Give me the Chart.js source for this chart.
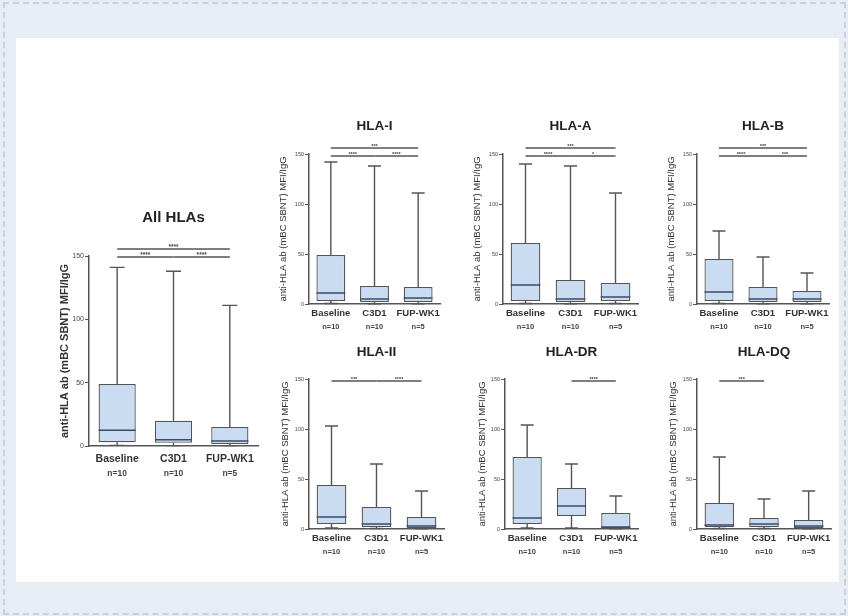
<!DOCTYPE html>
<html>
<head>
<meta charset="utf-8">
<script src="https://cdn.jsdelivr.net/npm/chart.js@4.4.1/dist/chart.umd.min.js"></script>
<style>
  html, body { margin: 0; padding: 0; }
  body { width: 848px; height: 616px; background: #e8ecf4; position: relative; overflow: hidden;
         font-family: 'Liberation Sans', Arial, sans-serif; }
  #frame { position: absolute; left: 3px; top: 2px; width: 839px; height: 609px; border: 2px dashed #c9d1dd; }
  #sheet { position: absolute; left: 16px; top: 38px; width: 823px; height: 544px; background: #fff; }
  canvas { position: absolute; }
</style>
</head>
<body>
<div id="frame"></div>
<div id="sheet"></div>
<script>
// Groups on the x axis and their sample sizes
const categories = ['Baseline', 'C3D1', 'FUP-WK1'];
const groupSizes = ['n=10', 'n=10', 'n=5'];
const yTicks = [0, 50, 100, 150];

// Five-number summaries per group: [min, q1, median, q3, max]
const allHLAs = [[0.5, 3, 12.5, 49, 141], [0.3, 2.5, 5, 20, 138], [0.3, 1.5, 4, 15, 111]];
const hlaI    = [[0.5, 3, 11, 49, 142],   [0.3, 2, 5, 18, 138],   [0.3, 2, 6, 17, 111]];
const hlaA    = [[0.5, 3, 19, 61, 140],   [0.3, 2, 5, 24, 138],   [0.5, 3, 7, 21, 111]];
const hlaB    = [[0.5, 3, 12, 45, 73],    [0.3, 2, 5, 17, 47],    [0.3, 2, 5, 13, 31]];
const hlaII   = [[1, 5, 12, 44, 103],     [0.5, 2, 5, 22, 65],    [0.3, 1, 3, 12, 38]];
const hlaDR   = [[1, 5, 11, 72, 104],     [1, 13, 23, 41, 65],    [0.3, 1, 2, 16, 33]];
const hlaDQ   = [[0.5, 2, 4, 26, 72],     [0.5, 2, 5, 11, 30],    [0.3, 1, 3, 9, 38]];

// Pairwise comparisons: [from group, to group, stars, bracket row]
const allHLAsSig = [[0, 2, '****', 0], [0, 1, '****', 1], [1, 2, '****', 1]];
const hlaISig    = [[0, 2, '***', 0],  [0, 1, '****', 1], [1, 2, '****', 1]];
const hlaASig    = [[0, 2, '***', 0],  [0, 1, '****', 1], [1, 2, '*', 1]];
const hlaBSig    = [[0, 2, '***', 0],  [0, 1, '****', 1], [1, 2, '***', 1]];
const hlaIISig   = [[0, 1, '***', 1],  [1, 2, '****', 1]];
const hlaDRSig   = [[1, 2, '****', 1]];
const hlaDQSig   = [[0, 1, '***', 1]];

const yTitle = 'anti-HLA ab (mBC SBNT) MFI/IgG';
const FONT = "'Liberation Sans', Arial, sans-serif";

// Panel placement on the page (plot rectangle, title and axis-title positions)
const panels = [
  { title: 'All HLAs', data: allHLAs, sig: allHLAsSig, L: 89,  T: 256, R: 258, B: 446, titleY: 218, yTitleX: 65,  big: true },
  { title: 'HLA-I',    data: hlaI,    sig: hlaISig,    L: 309, T: 154, R: 440, B: 304, titleY: 126, yTitleX: 283 },
  { title: 'HLA-A',    data: hlaA,    sig: hlaASig,    L: 503, T: 154, R: 638, B: 304, titleY: 126, yTitleX: 477 },
  { title: 'HLA-B',    data: hlaB,    sig: hlaBSig,    L: 697, T: 154, R: 829, B: 304, titleY: 126, yTitleX: 671 },
  { title: 'HLA-II',   data: hlaII,   sig: hlaIISig,   L: 309, T: 379, R: 444, B: 529, titleY: 352, yTitleX: 285 },
  { title: 'HLA-DR',   data: hlaDR,   sig: hlaDRSig,   L: 505, T: 379, R: 638, B: 529, titleY: 352, yTitleX: 482 },
  { title: 'HLA-DQ',   data: hlaDQ,   sig: hlaDQSig,   L: 697, T: 379, R: 831, B: 529, titleY: 352, yTitleX: 673 }
];

// Whiskers, medians, comparison brackets and the panel title
const boxWhisker = {
  id: 'boxWhisker',
  afterDatasetsDraw(chart, args, o) {
    const { ctx, chartArea } = chart;
    const ys = chart.scales.y;
    const xs = chart.scales.x;
    const meta = chart.getDatasetMeta(0);
    ctx.save();
    o.summary.forEach((s, i) => {
      const bar = meta.data[i];
      const cx = bar.x, hw = bar.width / 2;
      const [mn, q1, md, q3, mx] = s.map(v => ys.getPixelForValue(v));
      ctx.strokeStyle = '#555';
      ctx.lineWidth = 1.4;
      ctx.beginPath();
      ctx.moveTo(cx, q3); ctx.lineTo(cx, mx);
      ctx.moveTo(cx - o.cap / 2, mx); ctx.lineTo(cx + o.cap / 2, mx);
      ctx.moveTo(cx, q1); ctx.lineTo(cx, mn);
      ctx.moveTo(cx - o.cap / 2, mn); ctx.lineTo(cx + o.cap / 2, mn);
      ctx.stroke();
      ctx.strokeStyle = '#3c4a66';
      ctx.lineWidth = 1.5;
      ctx.beginPath();
      ctx.moveTo(cx - hw, md); ctx.lineTo(cx + hw, md);
      ctx.stroke();
    });

    o.sig.forEach(([a, b, stars, row]) => {
      const x1 = xs.getPixelForValue(a), x2 = xs.getPixelForValue(b);
      const y = chartArea.top + (row === 0 ? o.row0 : o.row1);
      ctx.strokeStyle = '#555';
      ctx.lineWidth = 1.3;
      ctx.beginPath();
      ctx.moveTo(x1, y); ctx.lineTo(x2, y);
      ctx.stroke();
      ctx.fillStyle = '#444';
      ctx.font = `bold ${o.starSize}px ${FONT}`;
      ctx.textAlign = 'center';
      ctx.textBaseline = 'bottom';
      ctx.fillText(stars, (x1 + x2) / 2, y + 1.5);
    });

    ctx.fillStyle = '#222';
    ctx.font = `bold ${o.titleSize}px ${FONT}`;
    ctx.textAlign = 'center';
    ctx.textBaseline = 'middle';
    ctx.fillText(o.title, (chartArea.left + chartArea.right) / 2, o.titleY);
    ctx.restore();
  }
};

panels.forEach(p => {
  const s = p.big
    ? { title: 15, yTitle: 11, yWeight: 'bold', tick: 7, cat: 10.5, n: 8.5, star: 6.5, cap: 15, row0: -7, row1: 1, catOff: 13, nOff: 28 }
    : { title: 13.5, yTitle: 9.5, yWeight: 'normal', tick: 5.5, cat: 9.5, n: 7.5, star: 5.5, cap: 13, row0: -6, row1: 2, catOff: 9, nOff: 23 };

  const x0 = p.yTitleX - 8, y0 = p.titleY - 14;
  const x1 = p.R + 8, y1 = p.B + 42;
  const cw = x1 - x0, ch = y1 - y0;

  const canvas = document.createElement('canvas');
  canvas.width = cw; canvas.height = ch;
  canvas.style.left = x0 + 'px'; canvas.style.top = y0 + 'px';
  canvas.style.width = cw + 'px'; canvas.style.height = ch + 'px';
  document.body.appendChild(canvas);

  const yTitleLH = s.yTitle * 1.2;
  const padL = p.yTitleX - x0 - yTitleLH / 2;
  const yWidth = p.L - x0 - padL;
  const catLH = s.cat * 1.2, nLH = s.n * 1.2;
  const xH = s.catOff + catLH / 2 + 1;
  const catPad = s.catOff - catLH / 2;
  const nPad = s.nOff - xH - nLH / 2;
  const xH2 = nPad + nLH + 2;
  const padB = (y1 - p.B) - xH - xH2;

  new Chart(canvas, {
    type: 'bar',
    data: {
      labels: categories,
      datasets: [{
        data: p.data.map(d => [d[1], d[3]]),
        backgroundColor: '#c9dcf2',
        borderColor: '#555',
        borderWidth: 1.3,
        borderSkipped: false,
        barPercentage: 0.66,
        categoryPercentage: 1
      }]
    },
    options: {
      responsive: false,
      animation: false,
      devicePixelRatio: 1,
      layout: { padding: { left: padL, right: x1 - p.R, top: p.T - y0, bottom: Math.max(0, padB) } },
      plugins: {
        legend: { display: false },
        tooltip: { enabled: false },
        boxWhisker: {
          summary: p.data, sig: p.sig, title: p.title, titleY: p.titleY - y0,
          titleSize: s.title, starSize: s.star, cap: s.cap, row0: s.row0, row1: s.row1
        }
      },
      scales: {
        x: {
          type: 'category',
          position: 'bottom',
          offset: true,
          grid: { display: false, drawTicks: false },
          border: { display: true, color: '#555', width: 1.5 },
          ticks: { color: '#333', padding: catPad, maxRotation: 0, autoSkip: false,
                   font: { family: FONT, size: s.cat, weight: 'bold' } },
          afterFit: sc => { sc.height = xH; }
        },
        x2: {
          type: 'category',
          position: 'bottom',
          labels: groupSizes,
          offset: true,
          grid: { display: false, drawTicks: false },
          border: { display: false },
          ticks: { color: '#444', padding: nPad, maxRotation: 0, autoSkip: false,
                   font: { family: FONT, size: s.n, weight: 'bold' } },
          afterFit: sc => { sc.height = xH2; }
        },
        y: {
          min: 0, max: 150,
          afterBuildTicks: sc => { sc.ticks = yTicks.map(v => ({ value: v })); },
          grid: { drawOnChartArea: false, drawTicks: true, tickLength: 4, color: '#555', lineWidth: 1 },
          border: { display: true, color: '#555', width: 1.5 },
          ticks: { color: '#444', padding: 1, font: { family: FONT, size: s.tick } },
          title: { display: true, text: yTitle, color: '#333', padding: 0,
                   font: { family: FONT, size: s.yTitle, weight: s.yWeight, lineHeight: 1.2 } },
          afterFit: sc => { sc.width = yWidth; }
        }
      }
    },
    plugins: [boxWhisker]
  });
});
</script>
</body>
</html>
